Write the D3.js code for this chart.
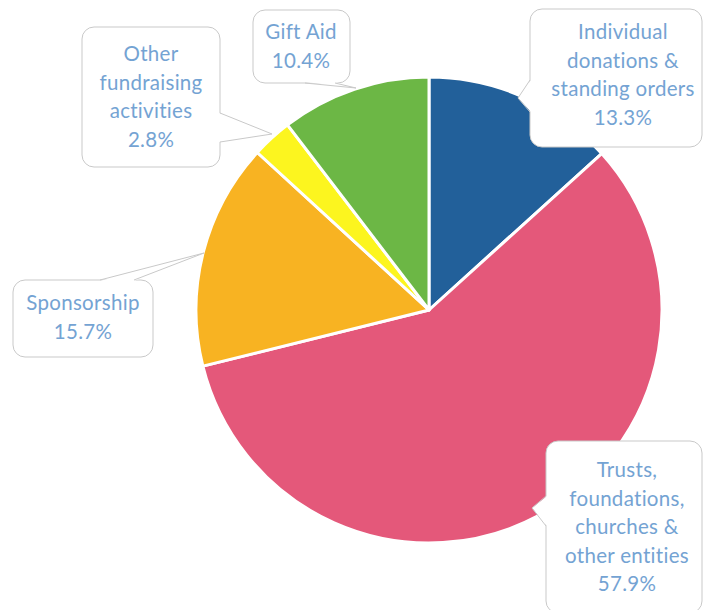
<!DOCTYPE html>
<html><head><meta charset="utf-8">
<script src="https://cdn.jsdelivr.net/npm/d3@7"></script>
<style>body{margin:0;background:#fff}svg{display:block}</style>
</head><body>
<script>
const categories = ["Individual donations & standing orders","Trusts, foundations, churches & other entities","Sponsorship","Other fundraising activities","Gift Aid"];
const values = [13.3, 57.9, 15.7, 2.8, 10.4];
const labelLines = [
  ["Individual","donations &","standing orders","13.3%"],
  ["Trusts,","foundations,","churches &","other entities","57.9%"],
  ["Sponsorship","15.7%"],
  ["Other","fundraising","activities","2.8%"],
  ["Gift Aid","10.4%"]
];
const colors = ["#22609a","#e4587a","#f8b322","#fcf51f","#6cb745"];

const W=703,H=610, cx=429, cy=310, R=233;
const svg=d3.select("body").append("svg").attr("width",W).attr("height",H);
const pie=d3.pie().sort(null).value(d=>d)(values);
const arc=d3.arc().innerRadius(0).outerRadius(R);
const color=d3.scaleOrdinal().domain(categories).range(colors);
const g=svg.append("g").attr("transform",`translate(${cx},${cy})`);
g.selectAll("path").data(pie).join("path").attr("d",arc)
 .attr("fill",(d,i)=>color(categories[i])).attr("stroke","#fff").attr("stroke-width",3).attr("stroke-linejoin","round");

const layout=[
 {x:530,y:9,w:172,h:138,tx:623,ty:32,pt:{a:[530,80],b:[530,112],tip:[518,98]}},
 {x:546,y:441,w:156,h:172,tx:627,ty:470,pt:{a:[546,496],b:[546,526],tip:[532,508]}},
 {x:13,y:280,w:140,h:77,tx:83,ty:303,pt:{a:[100,280],b:[134,280],tip:[204,253]}},
 {x:82,y:27,w:138,h:140,tx:151,ty:54,pt:{a:[220,113],b:[220,142],tip:[272,134]}},
 {x:253,y:10,w:97,h:73,tx:301,ty:32,pt:{a:[305,83],b:[335,83],tip:[356,88]}}
];
function callout(L){
  const r=12,{x,y,w,h}=L,p=d3.path();
  p.moveTo(x+r,y);p.lineTo(x+w-r,y);p.arcTo(x+w,y,x+w,y+r,r);
  p.lineTo(x+w,y+h-r);p.arcTo(x+w,y+h,x+w-r,y+h,r);
  p.lineTo(x+r,y+h);p.arcTo(x,y+h,x,y+h-r,r);
  p.lineTo(x,y+r);p.arcTo(x,y,x+r,y,r);p.closePath();
  return p.toString();
}
const cg=svg.append("g");
layout.forEach((L,i)=>{
  const pt=L.pt;
  const vert=pt.a[0]===pt.b[0];
  const off=vert?(pt.a[0]<L.x+L.w/2?1:-1):(pt.a[1]<L.y+L.h/2?1:-1);
  const ia=vert?[pt.a[0]+off,pt.a[1]]:[pt.a[0],pt.a[1]+off];
  const ib=vert?[pt.b[0]+off,pt.b[1]]:[pt.b[0],pt.b[1]+off];
  cg.append("path").attr("d",callout(L)).attr("fill","#fff").attr("stroke","#c9c9c9").attr("stroke-width",1);
  cg.append("path").attr("d",`M${ia}L${pt.tip}L${ib}Z`).attr("fill","#fff").attr("stroke","none");
  cg.append("path").attr("d",`M${pt.a}L${pt.tip}L${pt.b}`)
    .attr("fill","none").attr("stroke","#c9c9c9").attr("stroke-width",1);
  const t=cg.append("text").attr("text-anchor","middle").attr("font-family","Lato, 'Open Sans', sans-serif")
    .attr("font-size",20.5).attr("letter-spacing",0.3).attr("fill","#74a3d3");
  labelLines[i].forEach((s,j)=>t.append("tspan").attr("x",L.tx).attr("y",L.ty+j*28.5).attr("dy","0.35em").text(s));
});
</script>
</body></html>
